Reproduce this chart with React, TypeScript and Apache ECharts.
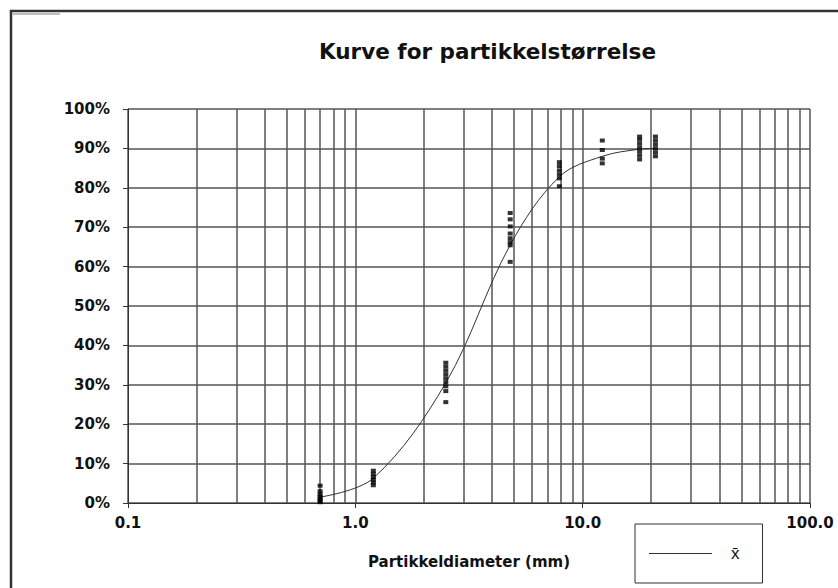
import React, { useEffect, useRef } from "react";
import * as echarts from "echarts";

const TITLE = "Kurve for partikkelstørrelse";
const X_NAME = "Partikkeldiameter (mm)";
const LEGEND_NAME = "x\u0304";

// particle diameters (mm) of the sieve fractions
const sieveSizes = [0.7, 1.2, 2.5, 4.8, 7.9, 12.2, 17.8, 20.9];
// individual observations (% passing) per sieve size
const observations = [
  [4.4, 3.0, 2.2, 1.6, 1.1, 0.6, 0.2],
  [8.2, 7.4, 6.6, 5.9, 5.2, 4.5],
  [35.6, 34.6, 33.6, 32.6, 31.6, 30.6, 29.6, 28.4, 25.6],
  [73.6, 72.0, 70.2, 68.4, 67.2, 66.2, 65.4, 61.2],
  [86.5, 85.5, 84.4, 83.4, 82.4, 80.4],
  [92.0, 89.6, 87.4, 86.2],
  [93.0, 92.2, 91.2, 90.2, 89.2, 88.2, 87.2],
  [93.0, 92.0, 91.0, 90.0, 89.0, 88.0],
];
// mean curve (x-bar) values in %
const meanValues = [1.5, 6.3, 30.5, 65.5, 82.8, 88.0, 89.8, 90.0];

const xTickLabels = ["0.1", "1.0", "10.0", "100.0"];
const xTickValues = [0.1, 1, 10, 100];
const yTickLabels = ["0%", "10%", "20%", "30%", "40%", "50%", "60%", "70%", "80%", "90%", "100%"];

const FONT = "DejaVu Sans";
const GRID_COLOR = "#555";

export default function App() {
  const ref = useRef<HTMLDivElement>(null);

  useEffect(() => {
    if (!ref.current) return;
    const chart = echarts.init(ref.current, undefined, { renderer: "svg" });

    const scatterData: number[][] = [];
    sieveSizes.forEach((s, i) => {
      observations[i].forEach((v) => scatterData.push([s, v]));
    });
    const meanData = sieveSizes.map((s, i) => [s, meanValues[i]]);

    // minor log grid positions 2..9 per decade
    const minorLines: any[] = [];
    [0.1, 1, 10].forEach((d) => {
      for (let k = 2; k <= 9; k++) minorLines.push({ xAxis: +(d * k).toPrecision(3) });
    });

    chart.setOption({
      animation: false,
      backgroundColor: "#ffffff",
      title: {
        text: TITLE,
        left: 314,
        top: 35,
        textStyle: { fontFamily: FONT, fontWeight: "bold", fontSize: 21.5, color: "#111" },
      },
      grid: { left: 128, right: 28, top: 109, bottom: 85 },
      legend: {
        data: [LEGEND_NAME],
        left: 635,
        top: 524,
        orient: "horizontal",
        icon: "rect",
        itemWidth: 63,
        itemHeight: 1,
        padding: [21, 23, 21, 14],
        borderColor: "#333",
        borderWidth: 1,
        textStyle: { fontFamily: "Liberation Sans", fontSize: 17, color: "#111", padding: [0, 0, 0, 14] },
      },
      xAxis: {
        type: "log",
        logBase: 10,
        min: 0.1,
        max: 100,
        name: X_NAME,
        nameLocation: "middle",
        nameGap: 51,
        nameTextStyle: { fontFamily: FONT, fontWeight: "bold", fontSize: 15, color: "#111" },
        axisLine: { show: true, lineStyle: { color: "#333", width: 1 } },
        axisTick: { show: true, length: 5, lineStyle: { color: "#333" } },
        axisLabel: {
          margin: 12,
          fontFamily: FONT,
          fontWeight: "bold",
          fontSize: 15,
          color: "#111",
          formatter: (v: number) => {
            const idx = xTickValues.findIndex((t) => Math.abs(t - v) / t < 1e-6);
            return idx >= 0 ? xTickLabels[idx] : "";
          },
        },
        splitLine: { show: true, lineStyle: { color: GRID_COLOR, width: 1.5 } },
      },
      yAxis: {
        type: "value",
        min: 0,
        max: 100,
        interval: 10,
        axisLine: { show: true, lineStyle: { color: "#333", width: 1 } },
        axisTick: { show: true, length: 5, lineStyle: { color: "#333" } },
        axisLabel: {
          margin: 18,
          fontFamily: FONT,
          fontWeight: "bold",
          fontSize: 15,
          color: "#111",
          formatter: (v: number) => yTickLabels[Math.round(v / 10)],
        },
        splitLine: { show: true, lineStyle: { color: GRID_COLOR, width: 1.5 } },
      },
      graphic: [
        {
          type: "rect",
          shape: { x: 11, y: 11, width: 840, height: 600 },
          style: { fill: "none", stroke: "#333", lineWidth: 2.5 },
          silent: true,
        },
        {
          type: "line",
          shape: { x1: 13, y1: 14, x2: 60, y2: 14 },
          style: { stroke: "#aaa", lineWidth: 1.5 },
          silent: true,
        },
      ],
      series: [
        {
          name: LEGEND_NAME,
          type: "line",
          data: meanData,
          smooth: 0.35,
          showSymbol: false,
          symbol: "none",
          lineStyle: { color: "#333", width: 1 },
          itemStyle: { color: "#333" },
          z: 3,
          markLine: {
            silent: true,
            symbol: ["none", "none"],
            label: { show: false },
            lineStyle: { color: GRID_COLOR, width: 1.5, type: "solid" },
            data: minorLines,
            z: 1,
          },
        },
        {
          name: "obs",
          type: "scatter",
          data: scatterData,
          symbol: "rect",
          symbolSize: [5, 4],
          itemStyle: { color: "#000" },
          z: 4,
        },
      ],
    });

    return () => chart.dispose();
  }, []);

  return (
    <div
      ref={ref}
      style={{ position: "absolute", left: 0, top: 0, width: 838, height: 588, background: "#fff" }}
    />
  );
}
